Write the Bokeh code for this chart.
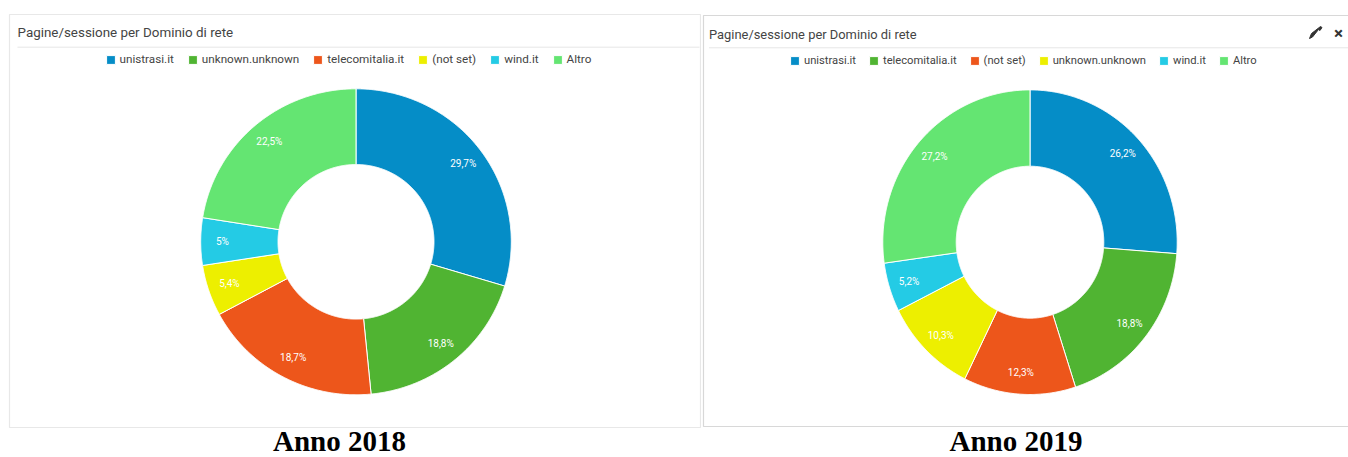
import math
from bokeh.core.properties import value
from bokeh.embed import file_html
from bokeh.layouts import row
from bokeh.models import ColumnDataSource, Legend, LegendItem, Range1d
from bokeh.plotting import figure
from bokeh.resources import INLINE

TITLE = "Pagine/sessione per Dominio di rete"

categories_2018 = ["unistrasi.it", "unknown.unknown", "telecomitalia.it", "(not set)", "wind.it", "Altro"]
values_2018 = [29.7, 18.8, 18.7, 5.4, 5.0, 22.5]
categories_2019 = ["unistrasi.it", "telecomitalia.it", "(not set)", "unknown.unknown", "wind.it", "Altro"]
values_2019 = [26.2, 18.8, 12.3, 10.3, 5.2, 27.2]
colors = ["#058DC7", "#50B432", "#ED561B", "#EDEF00", "#24CBE5", "#64E572"]

PAGE_H = 457
TOP, BOTTOM = 0, 457


def Y(y):
    return PAGE_H - y


def ring(cx, cy, rx, ry, irx, iry, a0, a1):
    n = max(2, int((a1 - a0) * 3) + 2)
    angles = [a0 + (a1 - a0) * i / (n - 1) for i in range(n)]
    xs = [cx + rx * math.sin(math.radians(a)) for a in angles]
    ys = [Y(cy) + ry * math.cos(math.radians(a)) for a in angles]
    xs += [cx + irx * math.sin(math.radians(a)) for a in reversed(angles)]
    ys += [Y(cy) + iry * math.cos(math.radians(a)) for a in reversed(angles)]
    return xs, ys


def panel(x0, x1, width, cats, vals, geo, title_xy, title_size, panel_box, border, divider, leg_xy, leg_font, leg_gap, caption, cap_x):
    p = figure(width=width, height=BOTTOM - TOP, x_range=Range1d(x0, x1), y_range=Range1d(Y(BOTTOM), Y(TOP)),
               output_backend="svg", toolbar_location=None, min_border=0)
    p.axis.visible = False
    p.grid.visible = False
    p.outline_line_color = None

    l, t, r, b = panel_box
    p.quad(left=[l], right=[r], top=[Y(t)], bottom=[Y(b)], fill_color="white", line_color=border, line_width=1.2)
    p.segment(x0=[title_xy[0]], x1=[r - 1], y0=[Y(divider)], y1=[Y(divider)], line_color="#e6e6e6", line_width=1)
    p.text(x=[title_xy[0]], y=[Y(title_xy[1])], text=[TITLE], text_font=value("Roboto"), text_font_size=title_size,
           text_color="#444444", text_baseline="middle", text_align="left")

    cx, cy, rx, ry, irx, iry = geo
    total = sum(vals)
    xs, ys, lx, ly, txt = [], [], [], [], []
    cum = 0.0
    for v in vals:
        a0 = cum / total * 360
        cum += v
        a1 = cum / total * 360
        px, py = ring(cx, cy, rx, ry, irx, iry, a0, a1)
        xs.append(px)
        ys.append(py)
        mid = math.radians((a0 + a1) / 2)
        lx.append(cx + 0.86 * rx * math.sin(mid))
        ly.append(Y(cy) + 0.86 * ry * math.cos(mid))
        txt.append((f"{v:g}%").replace(".", ","))
    src = ColumnDataSource(dict(xs=xs, ys=ys, color=colors[:len(vals)]))
    ren = p.patches("xs", "ys", source=src, fill_color="color", line_color="white", line_width=1)
    p.text(x=lx, y=ly, text=txt, text_color="white", text_font=value("Roboto"), text_font_size="10px",
           text_align="center", text_baseline="middle")

    items = [LegendItem(label=value(c), renderers=[ren], index=i) for i, c in enumerate(cats)]
    legend = Legend(items=items, orientation="horizontal", location=leg_xy, border_line_color=None,
                    background_fill_alpha=0, padding=0, margin=0, spacing=leg_gap, label_standoff=4,
                    glyph_width=11, glyph_height=11, label_height=9, label_text_font="Roboto",
                    label_text_font_size=leg_font, label_text_color="#444444", label_text_baseline="middle")
    p.add_layout(legend, "center")

    p.text(x=[cap_x], y=[Y(440.5)], text=[caption], text_font=value("Liberation Serif"), text_font_style="bold",
           text_font_size="29px", text_color="black", text_align="center", text_baseline="middle")
    return p


left = panel(0, 701, 701, categories_2018, values_2018, (355.5, 241.3, 155.3, 153, 78, 77.3),
             (17, 31.7), "13.4px", (9, 14, 700, 427), "#e8e8e8", 46.7, (104.5, 391), "11.7px", 13, "Anno 2018", 339)
right = panel(701, 1348, 647, categories_2019, values_2019, (1029.5, 241.7, 147.2, 152.3, 73.8, 76),
              (708.5, 34), "12.9px", (703, 15, 1360, 426), "#d8d8d8", 47.3, (88, 390), "11.2px", 12, "Anno 2019", 1015.5)

# pencil and close icons of the second panel
right.patch(x=[1309, 1311, 1320, 1321.5, 1319.5, 1318, 1312, 1309], y=[Y(38), Y(33), Y(26), Y(27), Y(30), Y(29), Y(36.5), Y(38)],
            fill_color="#333333", line_color="#333333", line_width=1)
right.text(x=[1338], y=[Y(32)], text=["\u00d7"], text_font=value("Roboto"), text_font_style="bold", text_font_size="17px",
           text_color="#333333", text_align="center", text_baseline="middle")

page = row(left, right, spacing=0)
open("out.html", "w").write(file_html(page, INLINE))
